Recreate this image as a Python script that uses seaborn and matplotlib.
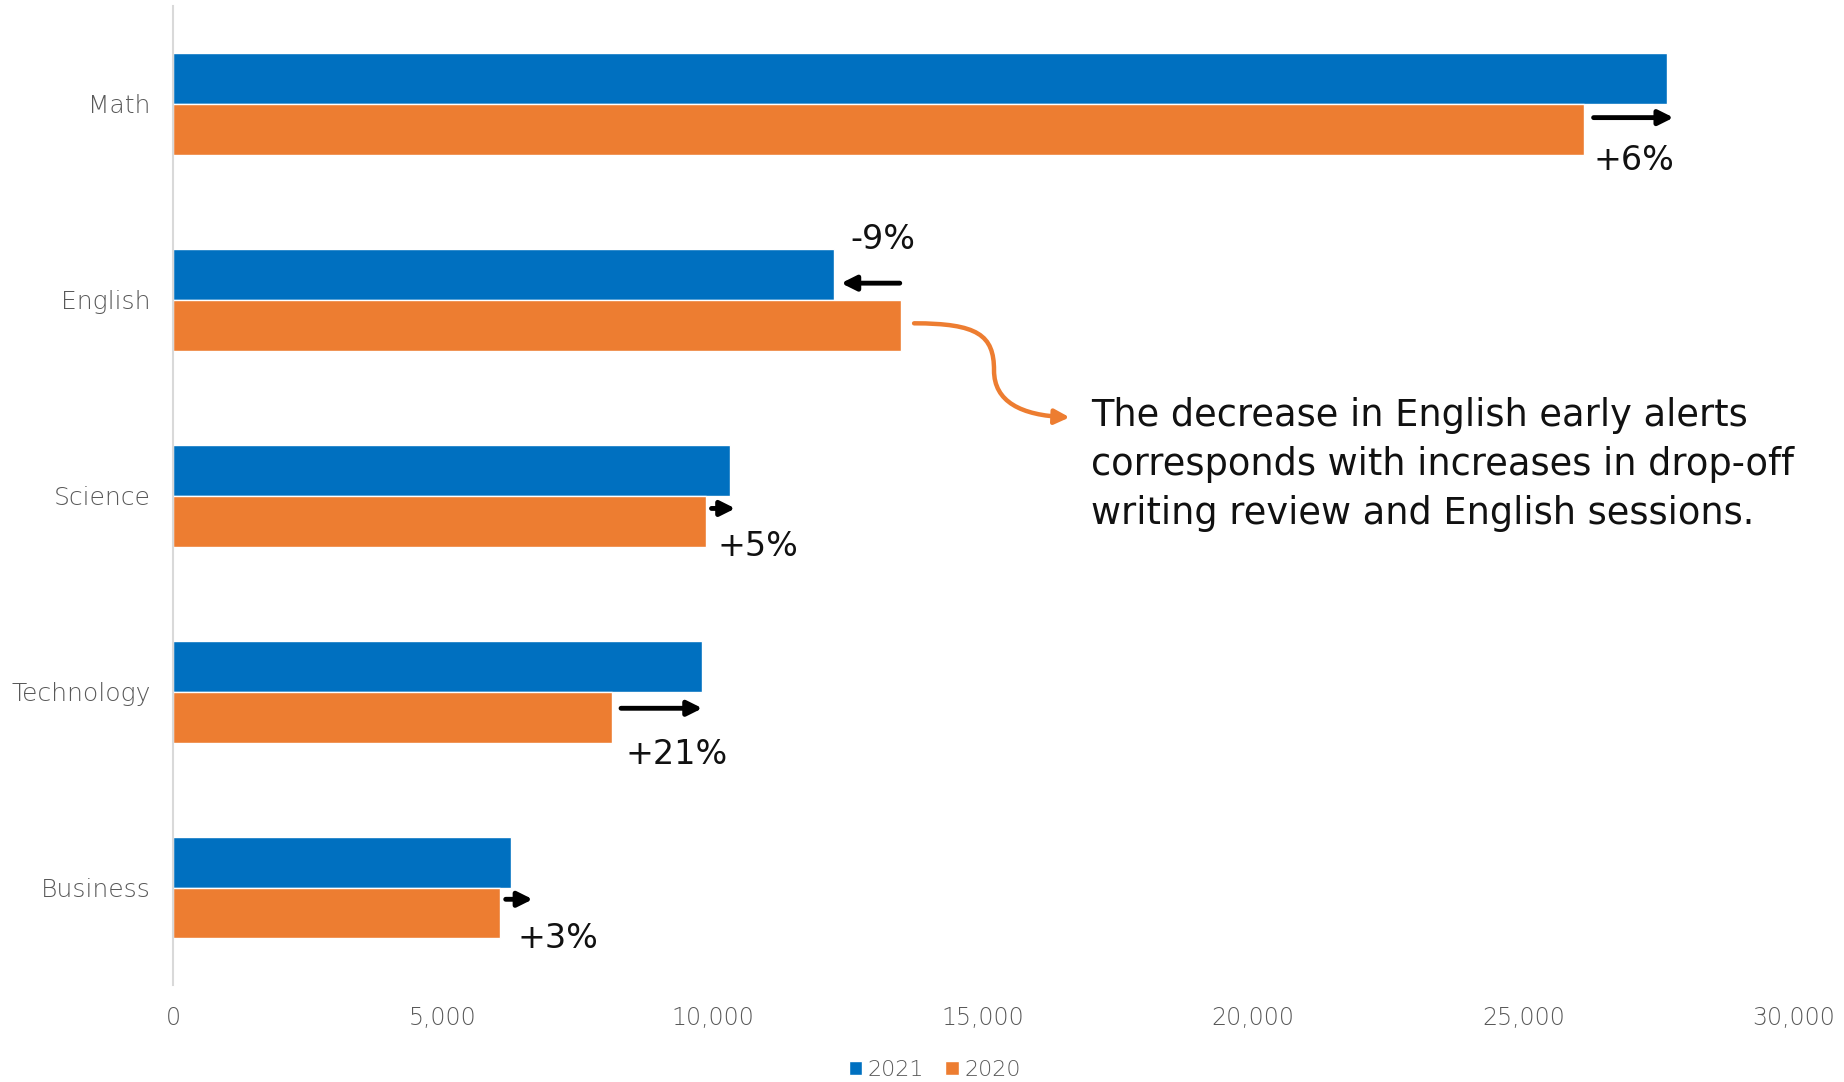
import pandas as pd
import seaborn as sns
import matplotlib.pyplot as plt
from matplotlib.path import Path
from matplotlib.patches import FancyArrowPatch

subjects = ['Math', 'English', 'Science', 'Technology', 'Business']
alerts_2021 = [27650, 12240, 10320, 9800, 6250]
alerts_2020 = [26130, 13480, 9860, 8120, 6050]
change_labels = ['+6%', '-9%', '+5%', '+21%', '+3%']
note = ('The decrease in English early alerts\n'
        'corresponds with increases in drop-off\n'
        'writing review and English sessions.')

blue = '#0070C0'
orange = '#ED7D31'
grey = '#595959'

sns.set_theme(style='white')
plt.rcParams['font.family'] = ['DejaVu Sans']

df = pd.DataFrame({
    'subject': subjects * 2,
    'alerts': alerts_2021 + alerts_2020,
    'year': ['2021'] * 5 + ['2020'] * 5,
})

fig = plt.figure(figsize=(18.44, 10.82), dpi=100)
ax = fig.add_axes([0.0938, 0.0892, 0.8788, 0.9053])

sns.barplot(data=df, x='alerts', y='subject', hue='year', hue_order=['2021', '2020'],
            order=subjects, palette=[blue, orange], width=0.52, orient='h',
            saturation=1, ax=ax)

ax.set_xlim(0, 30000)
ax.set_ylim(4.5, -0.5)
ax.set_xticks(range(0, 30001, 5000))
ax.set_xticklabels([f'{t:,}' for t in range(0, 30001, 5000)])
ax.set_xlabel('')
ax.set_ylabel('')
sns.despine(ax=ax, bottom=True)
ax.spines['left'].set_color('#D9D9D9')
ax.spines['left'].set_linewidth(1.5)
ax.tick_params(axis='both', length=0, labelcolor=grey)
ax.tick_params(axis='x', pad=15, labelsize=17)
ax.tick_params(axis='y', pad=16, labelsize=18)
for lab in ax.get_xticklabels() + ax.get_yticklabels():
    lab.set_fontweight('light')

# change arrows (hand placed offsets from bar ends) and labels
tail_pad = [170, -25, 110, 175, 110]
head_pad = [130, 130, 90, 0, 410]
arrow_dy = [0.07, -0.085, 0.065, 0.085, 0.06]
label_dx = [170, 300, 220, 260, 330]
label_dy = [0.29, -0.31, 0.26, 0.32, 0.26]
for i, (new, old, lab) in enumerate(zip(alerts_2021, alerts_2020, change_labels)):
    y = i + arrow_dy[i]
    ax.annotate('', xy=(new + head_pad[i], y), xytext=(old + tail_pad[i], y),
                arrowprops=dict(arrowstyle='-|>', color='black', lw=3.5,
                                mutation_scale=22, shrinkA=0, shrinkB=0))
    base = old if new > old else new
    ax.text(base + label_dx[i], i + label_dy[i], lab, fontsize=24, color='#111111',
            va='center', ha='left')

# curved callout from English bar
verts = [(13720, 1.12), (14900, 1.12), (15200, 1.18), (15200, 1.36),
         (15200, 1.52), (15700, 1.59), (16600, 1.60)]
codes = [Path.MOVETO, Path.CURVE4, Path.CURVE4, Path.CURVE4,
         Path.CURVE4, Path.CURVE4, Path.CURVE4]
ax.add_patch(FancyArrowPatch(path=Path(verts, codes), arrowstyle='-|>',
                             color=orange, lw=3.2, mutation_scale=22))
ax.text(17000, 1.84, note, fontsize=26.5, color='#111111', va='center', ha='left',
        linespacing=1.42)

handles, labels = ax.get_legend_handles_labels()
ax.get_legend().remove()
leg = fig.legend(handles, labels, loc='center', bbox_to_anchor=(0.507, 0.011),
                 ncol=2, frameon=False, fontsize=16, handlelength=0.6,
                 handleheight=0.6, handletextpad=0.27, columnspacing=0.95,
                 borderpad=0)
for t in leg.get_texts():
    t.set_color(grey)
    t.set_fontweight('light')

fig.savefig('out.png', dpi=100)
